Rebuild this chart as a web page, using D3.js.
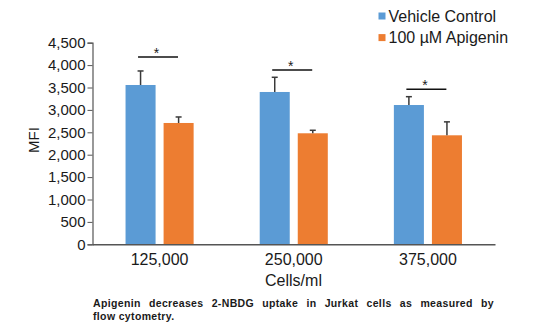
<!DOCTYPE html>
<html><head><meta charset="utf-8">
<script src="https://cdn.jsdelivr.net/npm/d3@7"></script>
<style>
html,body{margin:0;padding:0;background:#fff;}
text{font-family:Arial,"Liberation Sans",Helvetica,sans-serif;fill:#1a1a1a;}
</style></head>
<body><svg id="c" width="536" height="326"></svg>
<script>
const categories = ["125,000", "250,000", "375,000"];
const seriesNames = ["Vehicle Control", "100 \u00B5M Apigenin"];
const vehicle = [3556, 3400, 3109];
const vehicleErr = [313, 328, 186];
const apigenin = [2708, 2478, 2433];
const apigeninErr = [134, 67, 300];
const sigLevels = [4180, 3890, 3460];
const yTicks = [0, 500, 1000, 1500, 2000, 2500, 3000, 3500, 4000, 4500];
const colors = ["#5B9BD5", "#ED7D31"];
const yLabel = "MFI";
const xLabel = "Cells/ml";
const caption1 = "Apigenin decreases 2-NBDG uptake in Jurkat cells as measured by";
const caption2 = "flow cytometry.";

const svg = d3.select("#c");
const L = 92.5, R = 495, T = 42.7, B = 244.3;
const y = d3.scaleLinear().domain([0, 4500]).range([B, T]);
const pin = 1 - 68/134;
const x0 = d3.scaleBand().domain(categories).range([L, R]).paddingInner(pin).paddingOuter(pin/2);
const x1 = d3.scaleBand().domain(seriesNames).range([0, x0.bandwidth()]).paddingInner(8/38).paddingOuter(0);

const data = categories.map((c, i) => ({
  cat: c,
  vals: [
    {s: seriesNames[0], v: vehicle[i], e: vehicleErr[i], col: colors[0]},
    {s: seriesNames[1], v: apigenin[i], e: apigeninErr[i], col: colors[1]}
  ],
  sig: sigLevels[i]
}));

// bars
const g = svg.selectAll("g.grp").data(data).enter().append("g")
  .attr("transform", d => `translate(${x0(d.cat)},0)`);
g.selectAll("rect").data(d => d.vals).enter().append("rect")
  .attr("x", d => x1(d.s)).attr("width", x1.bandwidth())
  .attr("y", d => y(d.v)).attr("height", d => B - y(d.v))
  .attr("fill", d => d.col);

// error bars
const eb = g.selectAll("g.err").data(d => d.vals).enter().append("g");
eb.append("line")
  .attr("x1", d => x1(d.s) + x1.bandwidth()/2).attr("x2", d => x1(d.s) + x1.bandwidth()/2)
  .attr("y1", d => y(d.v)).attr("y2", d => y(d.v + d.e))
  .attr("stroke", "#3a3a3a").attr("stroke-width", 1.5);
eb.append("line")
  .attr("x1", d => x1(d.s) + x1.bandwidth()/2 - 3).attr("x2", d => x1(d.s) + x1.bandwidth()/2 + 3)
  .attr("y1", d => y(d.v + d.e)).attr("y2", d => y(d.v + d.e))
  .attr("stroke", "#3a3a3a").attr("stroke-width", 1.5);

// significance
g.append("line")
  .attr("x1", 12.5).attr("x2", 52.5)
  .attr("y1", d => y(d.sig)).attr("y2", d => y(d.sig))
  .attr("stroke", "#111").attr("stroke-width", 1.6);
g.append("text").text("*")
  .attr("x", 31).attr("y", d => y(d.sig) + 0.5)
  .attr("text-anchor", "middle").style("font-size", "14px");

// y axis
const yAxis = svg.append("g").attr("transform", `translate(${L},0)`)
  .call(d3.axisLeft(y).tickValues(yTicks).tickSize(5).tickPadding(2)
    .tickFormat(d3.format(",")));
yAxis.select(".domain").attr("stroke", "#555").attr("stroke-width", 1.2);
yAxis.selectAll(".tick line").attr("stroke", "#555");
yAxis.selectAll(".tick text").style("font-size", "15px").attr("fill", "#1a1a1a")
  .style("font-family", "Arial, 'Liberation Sans', sans-serif");

// x axis
const xAxis = svg.append("g").attr("transform", `translate(0,${B})`)
  .call(d3.axisBottom(x0).tickSize(0).tickPadding(9));
xAxis.select(".domain").attr("stroke", "#555").attr("stroke-width", 1.4);
xAxis.selectAll(".tick text").style("font-size", "16px").attr("fill", "#1a1a1a")
  .style("font-family", "Arial, 'Liberation Sans', sans-serif");

// axis labels
svg.append("text").text(xLabel).attr("x", 293.5).attr("y", 285.7)
  .attr("text-anchor", "middle").style("font-size", "16px");
svg.append("text").text(yLabel)
  .attr("transform", "translate(38.5,140) rotate(-90)")
  .attr("text-anchor", "middle").style("font-size", "15px");

// legend
const lg = svg.append("g");
seriesNames.forEach((s, i) => {
  lg.append("rect").attr("x", 378.5).attr("y", 12.5 + i*21.6).attr("width", 7).attr("height", 7).attr("fill", colors[i]);
  lg.append("text").text(s).attr("x", 388.5).attr("y", 21.8 + i*21.6).style("font-size", "16px");
});

// caption (justified first line via word spacing)
const c1 = svg.append("text").text(caption1).attr("x", 93).attr("y", 307)
  .style("font-size", "10.5px").style("font-weight", "bold").style("letter-spacing", "0.35px").attr("fill", "#222");
const natural = c1.node().getComputedTextLength();
const nSpaces = caption1.split(" ").length - 1;
c1.style("word-spacing", ((401 - natural) / nSpaces) + "px");
svg.append("text").text(caption2).attr("x", 93).attr("y", 319.5)
  .style("font-size", "10.5px").style("font-weight", "bold").style("letter-spacing", "0.35px").attr("fill", "#222");
</script></body></html>
